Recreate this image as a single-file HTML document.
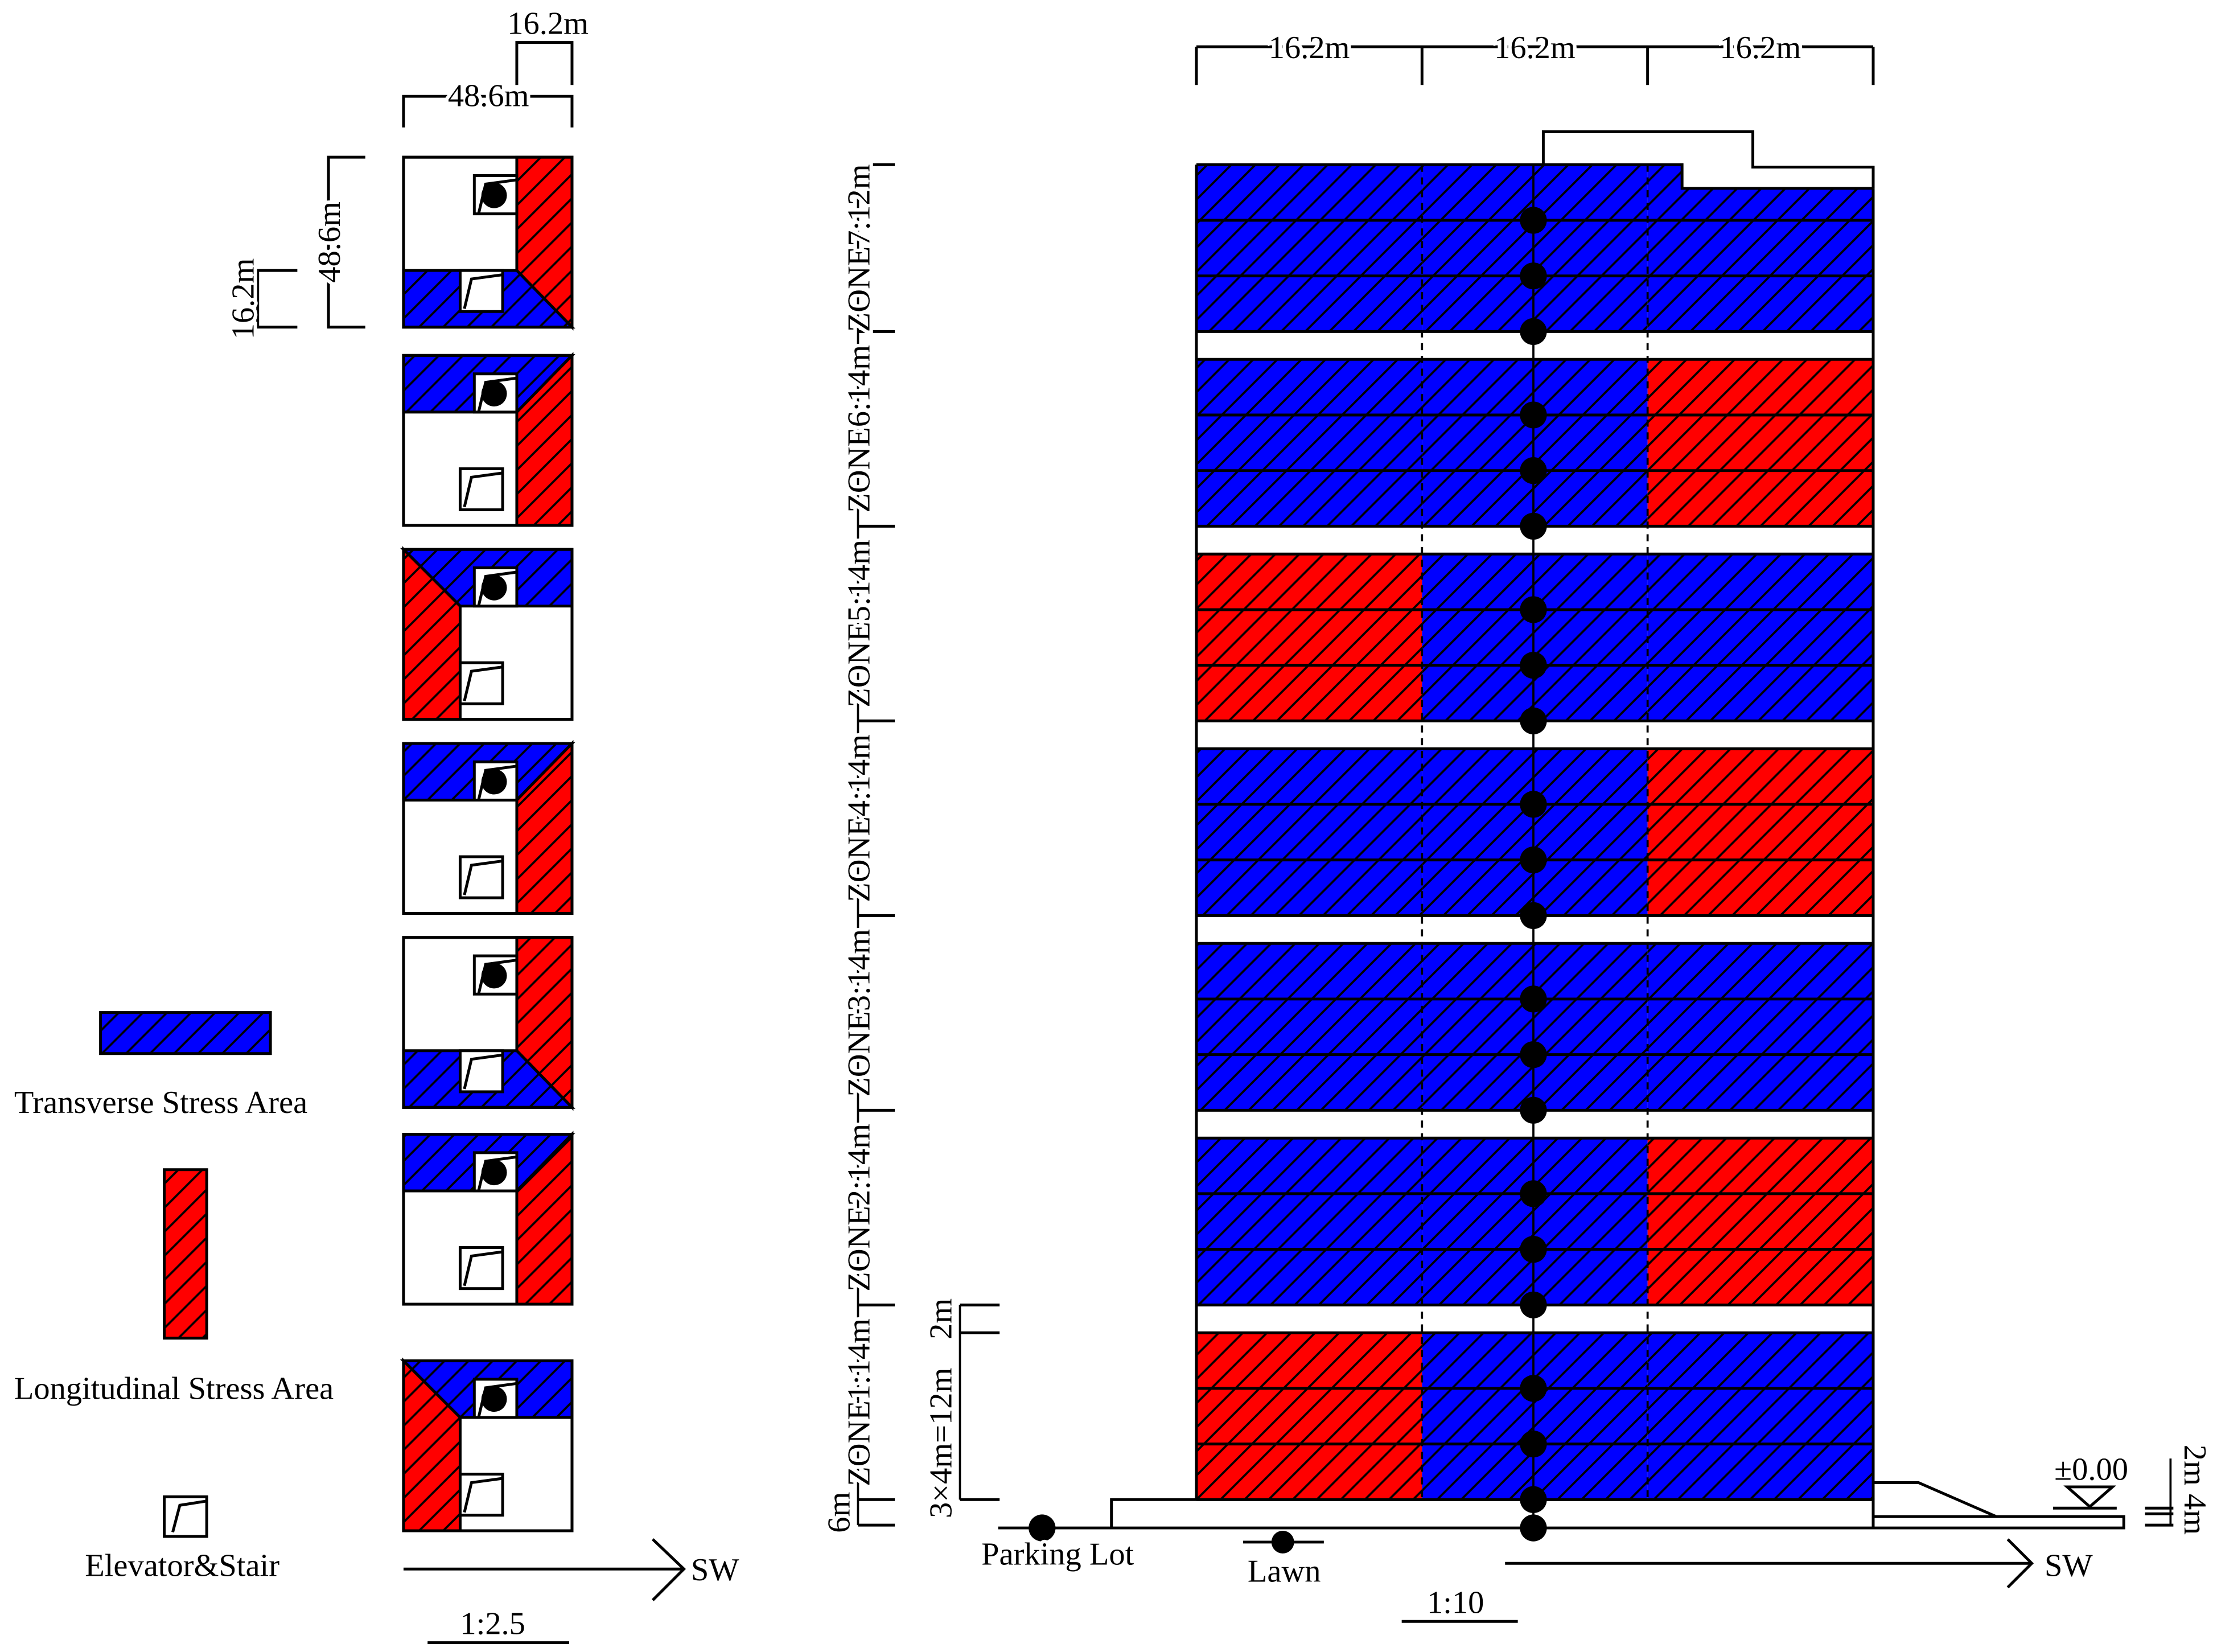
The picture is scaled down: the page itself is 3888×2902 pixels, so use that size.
<!DOCTYPE html>
<html><head><meta charset="utf-8"><style>
html,body{margin:0;padding:0;background:#fff}
svg{display:block}
text{font-family:"Liberation Serif",serif;font-size:22.7px;fill:#000}
</style></head><body>
<svg id="s" xmlns="http://www.w3.org/2000/svg" width="3888" height="2902" viewBox="0 0 1563 1166.6">
<defs>
<pattern id="hb" patternUnits="userSpaceOnUse" width="17" height="17"><rect width="17" height="17" fill="#0000ff"/><path d="M-2,19 L19,-2 M-2,2 L2,-2 M15,19 L19,15" stroke="#000" stroke-width="1.5"/></pattern>
<pattern id="hr" patternUnits="userSpaceOnUse" width="17" height="17"><rect width="17" height="17" fill="#ff0000"/><path d="M-2,19 L19,-2 M-2,2 L2,-2 M15,19 L19,15" stroke="#000" stroke-width="1.5"/></pattern>
</defs>
<g id="plans" stroke="#000" stroke-width="2" fill="none"></g>
<g id="elev"></g>
<g stroke="#000" stroke-width="2">
<rect x="71" y="715" width="120" height="29" fill="url(#hb)"/>
<rect x="116" y="826" width="30" height="119" fill="url(#hr)"/>
<rect x="116" y="1057" width="30" height="28" fill="#fff"/>
<polyline points="146,1060 127,1063 122,1082" fill="none"/>
</g>
<text x="10" y="786">Transverse Stress Area</text>
<text x="10" y="988">Longitudinal Stress Area</text>
<text x="60" y="1113">Elevator&amp;Stair</text>
<g stroke="#000" stroke-width="2" fill="none">
<polyline points="365,60 365,30 404,30 404,60"/>
<polyline points="285,90 285,68 404,68 404,90"/>
<polyline points="258,111 232,111 232,231 258,231"/>
<polyline points="210,191 182,191 182,231 210,231"/>
<polyline points="461,1087 483,1108 461,1130"/>
<line x1="285" y1="1108" x2="483" y2="1108"/>
<line x1="302" y1="1160" x2="402" y2="1160"/>
</g>
<g style="paint-order:stroke" stroke="#fff" stroke-width="5">
<text x="387" y="24" text-anchor="middle">16.2m</text>
<text x="345" y="75" text-anchor="middle">48.6m</text>
<text transform="translate(240,171) rotate(-90)" text-anchor="middle">48.6m</text>
<text transform="translate(179,211) rotate(-90)" text-anchor="middle">16.2m</text>
</g>
<text x="488" y="1116">SW</text>
<text x="348" y="1154" text-anchor="middle">1:2.5</text>
</svg>
<script>
// ---- data ----
const planTypes = ["A","B","C","B","A","B","C"];
const planTops = [111,251,388,525,662,801,961];
const zoneLabels = ["ZONE1:14m","ZONE2:14m","ZONE3:14m","ZONE4:14m","ZONE5:14m","ZONE6:14m","ZONE7:12m"];
const zoneLen = [14,14,14,14,14,14,12];
const zoneColors = ["RBB","BBR","BBB","BBR","RBB","BBR","BBB"];
const floorsPerZone = [3,3,3,3,3,3,3];
const colLabels = ["16.2m","16.2m","16.2m"];

const NS="http://www.w3.org/2000/svg";
function mk(parent,tag,attrs,txt){const e=document.createElementNS(NS,tag);for(const k in attrs)e.setAttribute(k,attrs[k]);if(txt!==undefined)e.textContent=txt;parent.appendChild(e);return e;}

// ---- plans ----
const P=document.getElementById('plans');
planTops.forEach((t,i)=>{
  const g=mk(P,'g',{});
  
  
  const L=285,R=404,B=t+120,type=planTypes[i];
  mk(g,'rect',{x:L,y:t,width:119,height:120,fill:'#fff'});
  if(type==="A"){
    mk(g,'polygon',{points:`365,${t} ${R},${t} ${R},${B} 365,${t+80}`,fill:'url(#hr)'});
    mk(g,'polygon',{points:`${L},${t+80} 365,${t+80} ${R},${B} ${L},${B}`,fill:'url(#hb)'});
  } else if(type==="B"){
    mk(g,'polygon',{points:`${L},${t} ${R},${t} 365,${t+40} ${L},${t+40}`,fill:'url(#hb)'});
    mk(g,'polygon',{points:`${R},${t} ${R},${B} 365,${B} 365,${t+40}`,fill:'url(#hr)'});
  } else {
    mk(g,'polygon',{points:`${L},${t} ${R},${t} ${R},${t+40} 325,${t+40}`,fill:'url(#hb)'});
    mk(g,'polygon',{points:`${L},${t} 325,${t+40} 325,${B} ${L},${B}`,fill:'url(#hr)'});
  }
  const eb=[335,t+13], lb=[325,t+80];
  mk(g,'rect',{x:L,y:t,width:119,height:120,fill:'none'});
  const e1=mk(g,'rect',{x:eb[0],y:eb[1],width:30,height:27,fill:'#fff'});
  
  
  mk(g,'polyline',{points:`${eb[0]+30},${eb[1]+3} ${eb[0]+8},${eb[1]+6} ${eb[0]+3},${eb[1]+27}`});
  const e2=mk(g,'rect',{x:lb[0],y:lb[1],width:30,height:29,fill:'#fff'});
  
  
  mk(g,'polyline',{points:`${lb[0]+30},${lb[1]+3} ${lb[0]+8},${lb[1]+6} ${lb[0]+3},${lb[1]+27}`});
  const d=mk(g,'circle',{cx:349,cy:eb[1]+14,r:9,fill:'#000',stroke:'none'});
  
  
});

// ---- elevation ----
const E=document.getElementById('elev');
const k=9.82, baseY=1059, X0=845, X1=1323, colW=(X1-X0)/3, floorH=4*k;
const yOf=m=>baseY-m*k;
let acc=0; const dotsY=[1079];
const zoneBounds=[];
zoneLen.forEach((len,i)=>{
  const bot=yOf(acc), bandTop=bot-floorsPerZone[i]*floorH, top=yOf(acc+len);
  zoneBounds.push([bot,top]);
  const g=mk(E,'g',{});
  
  
  for(let c=0;c<3;c++){
    const col=zoneColors[i][c]==="R"?'url(#hr)':'url(#hb)';
    const r=mk(g,'rect',{x:X0+c*colW,y:bandTop,width:colW,height:bot-bandTop,fill:col,stroke:'none'});
    
    
  }
  if(i===zoneLen.length-1){
    mk(g,'rect',{x:1188,y:bandTop-1,width:X1-1188+2,height:133-bandTop+1,fill:'#fff',stroke:'none'});
    mk(g,'polyline',{points:`${X0},${bandTop} 1188,${bandTop} 1188,133 ${X1},133`,fill:'none',stroke:'#000','stroke-width':2});
  } else {
    mk(g,'line',{x1:X0,y1:bandTop,x2:X1,y2:bandTop,stroke:'#000','stroke-width':2});
  }
  for(let f=0;f<floorsPerZone[i];f++){
    const y=bot-f*floorH;
    mk(g,'line',{x1:X0,y1:y,x2:X1,y2:y,stroke:'#000','stroke-width':2});
    dotsY.push(y);
  }
  acc+=len;
});
const topY=yOf(acc);
mk(E,'line',{x1:X0,y1:topY,x2:X0,y2:baseY,stroke:'#000','stroke-width':2});
mk(E,'line',{x1:X1,y1:133,x2:X1,y2:baseY,stroke:'#000','stroke-width':2});
mk(E,'polyline',{points:`1090,${topY} 1090,93 1238,93 1238,118 ${X1},118 ${X1},133`,fill:'none',stroke:'#000','stroke-width':2});
[1,2].forEach(c=>mk(E,'line',{x1:X0+c*colW,y1:topY,x2:X0+c*colW,y2:baseY,stroke:'#000','stroke-width':1.5,'stroke-dasharray':'5,4'}));
mk(E,'line',{x1:1083,y1:topY,x2:1083,y2:1079,stroke:'#000','stroke-width':1.5});
dotsY.forEach(y=>{const d=mk(E,'circle',{cx:1083,cy:y,r:9.5,fill:'#000'});
  
  });
mk(E,'polyline',{points:`785,1079 785,1059 ${X1},1059 ${X1},1079`,fill:'none',stroke:'#000','stroke-width':2});
mk(E,'polyline',{points:`${X1},1047 1355,1047 1410,1071 1500,1071 1500,1079 705,1079`,fill:'none',stroke:'#000','stroke-width':2});
mk(E,'line',{x1:X1,y1:1071,x2:1410,y2:1071,stroke:'#000','stroke-width':2});
mk(E,'polygon',{points:'1460,1050 1492,1050 1476,1064',fill:'none',stroke:'#000','stroke-width':2});
mk(E,'line',{x1:1450,y1:1065,x2:1495,y2:1065,stroke:'#000','stroke-width':2});
[1065,1069,1077].forEach(y=>mk(E,'line',{x1:1515,y1:y,x2:1535,y2:y,stroke:'#000','stroke-width':2}));
mk(E,'line',{x1:1533,y1:1030,x2:1533,y2:1077,stroke:'#000','stroke-width':1.5});
mk(E,'line',{x1:X0,y1:33,x2:X1,y2:33,stroke:'#000','stroke-width':2});
for(let c=0;c<=3;c++) mk(E,'line',{x1:X0+c*colW,y1:33,x2:X0+c*colW,y2:60,stroke:'#000','stroke-width':2});
colLabels.forEach((l,c)=>{const t=mk(E,'text',{x:X0+(c+0.5)*colW,y:41,'text-anchor':'middle',stroke:'#fff','stroke-width':5,style:'paint-order:stroke'},l);
  
  });
mk(E,'line',{x1:606,y1:topY,x2:606,y2:1077,stroke:'#000','stroke-width':1.5});
zoneBounds.forEach(([b,t],i)=>{
  mk(E,'line',{x1:606,y1:t,x2:632,y2:t,stroke:'#000','stroke-width':2});
  const tx=mk(E,'text',{transform:`translate(614,${(b+t)/2}) rotate(-90)`,'text-anchor':'middle',stroke:'#fff','stroke-width':5,style:'paint-order:stroke'},zoneLabels[i]);
  
  
});
[1059,1077].forEach(y=>mk(E,'line',{x1:606,y1:y,x2:632,y2:y,stroke:'#000','stroke-width':2}));
const z1b=zoneBounds[0][0], z1t=zoneBounds[0][1], z1band=z1b-3*floorH;
mk(E,'line',{x1:678,y1:z1t,x2:678,y2:z1b,stroke:'#000','stroke-width':1.5});
[z1t,z1band,z1b].forEach(y=>mk(E,'line',{x1:678,y1:y,x2:706,y2:y,stroke:'#000','stroke-width':2}));
function txt(attrs,s,name){const t=mk(E,'text',Object.assign({stroke:'#fff','stroke-width':5,style:'paint-order:stroke'},attrs),s);
  
  return t;}
txt({transform:`translate(600,1068) rotate(-90)`,'text-anchor':'middle'},'6m','podium-height-label');
txt({transform:`translate(672,${(z1t+z1band)/2}) rotate(-90)`,'text-anchor':'middle'},'2m','gap-height-label');
txt({transform:`translate(672,${z1b-40}) rotate(-90)`,'text-anchor':'middle'},'3×4m=12m','floor-height-label');
txt({transform:`translate(1543,1052) rotate(90)`,'text-anchor':'middle'},'2m 4m','ground-offset-label');
txt({x:1477,y:1045,'text-anchor':'middle'},'±0.00','level-label');
const pl=mk(E,'circle',{cx:736,cy:1079,r:9.5,fill:'#000'});


txt({x:747,y:1105,'text-anchor':'middle'},'Parking Lot','parking-lot-label');
mk(E,'line',{x1:878,y1:1089,x2:935,y2:1089,stroke:'#000','stroke-width':2});
const lw=mk(E,'circle',{cx:906,cy:1089,r:8,fill:'#000'});


txt({x:907,y:1117,'text-anchor':'middle'},'Lawn','lawn-label');
mk(E,'line',{x1:1063,y1:1104,x2:1435,y2:1104,stroke:'#000','stroke-width':2});
mk(E,'polyline',{points:'1418,1087 1435,1104 1418,1121',fill:'none',stroke:'#000','stroke-width':2});
txt({x:1444,y:1113},'SW','elevation-sw-label');
mk(E,'line',{x1:990,y1:1145,x2:1072,y2:1145,stroke:'#000','stroke-width':2});
txt({x:1028,y:1139,'text-anchor':'middle'},'1:10','elevation-scale');
</script>
</body></html>
